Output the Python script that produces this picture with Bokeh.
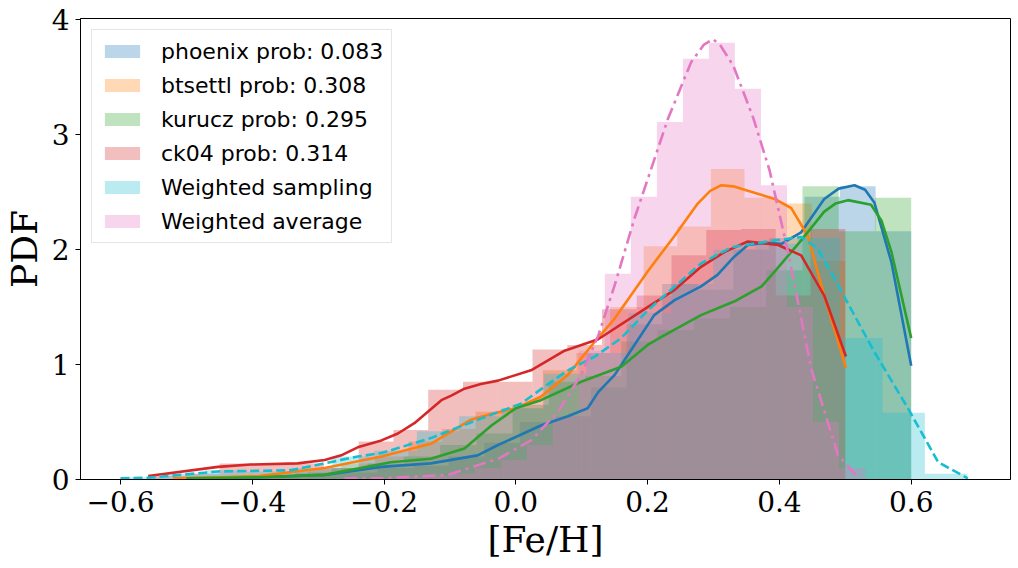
import numpy as np
from bokeh.plotting import figure
from bokeh.models import Range1d, FixedTicker, CustomJSTickFormatter, Legend, LegendItem
from bokeh.embed import file_html
from bokeh.resources import INLINE

# ---------------- data ----------------
labels = ["phoenix prob: 0.083", "btsettl prob: 0.308", "kurucz prob: 0.295",
          "ck04 prob: 0.314", "Weighted sampling", "Weighted average"]
colors = ["#1f77b4", "#ff7f0e", "#2ca02c", "#d62728", "#17becf", "#e377c2"]

# histogram bins: (first edge, last edge, heights)
phoenix_range = (-0.48, 0.60)
phoenix_hist = [0.01, 0.02, 0.03, 0.05, 0.06, 0.10, 0.12, 0.20, 0.32, 0.50,
                0.55, 0.80, 1.35, 1.70, 1.65, 2.00, 2.10, 2.46, 2.55, 2.16]
btsettl_range = (-0.52, 0.50)
btsettl_hist = [0.01, 0.03, 0.04, 0.05, 0.09, 0.14, 0.20, 0.33, 0.44, 0.59,
                0.62, 0.95, 1.10, 1.50, 2.03, 2.20, 2.70, 2.45, 2.40, 1.90]
kurucz_range = (-0.50, 0.60)
kurucz_hist = [0.01, 0.02, 0.03, 0.06, 0.10, 0.14, 0.20, 0.30, 0.40, 0.65,
               0.85, 0.90, 1.20, 1.30, 1.40, 1.50, 1.82, 2.55, 2.16, 2.45]
ck04_range = (-0.555, 0.50)
ck04_hist = [0.03, 0.05, 0.14, 0.14, 0.14, 0.10, 0.33, 0.43, 0.78, 0.85,
             0.85, 1.13, 1.17, 1.48, 1.60, 1.95, 2.17, 2.18, 1.60, 2.18]
wsamp_range = (-0.60, 0.685)
wsamp_hist = [0.02, 0.05, 0.08, 0.07, 0.10, 0.20, 0.25, 0.42, 0.55, 0.62,
              0.92, 1.10, 1.45, 1.70, 2.00, 2.05, 2.10, 1.23, 0.58, 0.05]
wavg_range = (-0.26, 0.53)
wavg_hist = [0.01, 0.01, 0.02, 0.03, 0.05, 0.10, 0.17, 0.30, 0.55, 1.12,
             1.79, 2.46, 3.11, 3.66, 3.80, 3.40, 2.56, 1.50, 0.50, 0.10]

# KDE curves
phoenix_x = [-0.48, -0.39, -0.29, -0.204, -0.129, -0.058, -0.027, 0.0, 0.038, 0.079, 0.109,
             0.125, 0.15, 0.18, 0.21, 0.241, 0.281, 0.306, 0.33, 0.352, 0.38, 0.403, 0.433,
             0.468, 0.49, 0.514, 0.53, 0.544, 0.57, 0.6]
phoenix_y = [0.01, 0.02, 0.04, 0.11, 0.14, 0.21, 0.30, 0.37, 0.47, 0.55, 0.62,
             0.76, 0.91, 1.17, 1.43, 1.56, 1.68, 1.78, 1.93, 2.04, 2.06, 2.05, 2.15,
             2.44, 2.53, 2.56, 2.52, 2.41, 1.89, 0.99]
btsettl_x = [-0.52, -0.45, -0.39, -0.29, -0.204, -0.129, -0.068, -0.038, 0.0, 0.038, 0.079,
             0.12, 0.15, 0.2, 0.241, 0.276, 0.295, 0.312, 0.33, 0.347, 0.393, 0.418, 0.443,
             0.468, 0.501]
btsettl_y = [0.01, 0.02, 0.03, 0.10, 0.20, 0.31, 0.52, 0.57, 0.62, 0.72, 0.91,
             1.20, 1.40, 1.81, 2.12, 2.40, 2.51, 2.56, 2.55, 2.52, 2.44, 2.36, 2.12,
             1.60, 0.97]
kurucz_x = [-0.5, -0.39, -0.29, -0.19, -0.129, -0.078, -0.037, 0.0, 0.038, 0.099, 0.16,
            0.2, 0.221, 0.281, 0.332, 0.373, 0.393, 0.433, 0.468, 0.485, 0.504, 0.539,
            0.555, 0.57, 0.6]
kurucz_y = [0.01, 0.02, 0.04, 0.15, 0.18, 0.27, 0.47, 0.62, 0.69, 0.85, 0.98,
            1.17, 1.24, 1.43, 1.55, 1.68, 1.81, 2.08, 2.33, 2.40, 2.43, 2.39,
            2.25, 1.98, 1.23]
ck04_x = [-0.558, -0.452, -0.402, -0.331, -0.29, -0.265, -0.24, -0.204, -0.179, -0.154,
          -0.113, -0.098, -0.078, -0.053, -0.027, 0.023, 0.074, 0.125, 0.2, 0.241, 0.281,
          0.317, 0.352, 0.398, 0.433, 0.468, 0.501]
ck04_y = [0.03, 0.11, 0.13, 0.14, 0.17, 0.21, 0.28, 0.34, 0.40, 0.49,
          0.69, 0.73, 0.79, 0.83, 0.86, 0.95, 1.12, 1.22, 1.50, 1.65, 1.85,
          1.98, 2.07, 2.04, 1.95, 1.60, 1.07]
wsamp_x = [-0.6, -0.558, -0.452, -0.341, -0.24, -0.204, -0.129, -0.053, 0.008, 0.049, 0.079,
           0.12, 0.16, 0.2, 0.281, 0.327, 0.393, 0.433, 0.458, 0.489, 0.544, 0.595, 0.641, 0.686]
wsamp_y = [0.01, 0.015, 0.07, 0.08, 0.20, 0.23, 0.36, 0.53, 0.66, 0.83, 0.95,
           1.07, 1.23, 1.47, 1.88, 2.02, 2.08, 2.11, 2.01, 1.69, 1.11, 0.62, 0.15, 0.01]
wavg_x = [-0.26, -0.204, -0.103, -0.027, 0.023, 0.064, 0.099, 0.125, 0.15, 0.18, 0.19,
          0.231, 0.266, 0.285, 0.299, 0.31, 0.33, 0.36, 0.385, 0.413, 0.448, 0.489, 0.519]
wavg_y = [0.01, 0.01, 0.04, 0.18, 0.34, 0.59, 0.91, 1.25, 1.69, 2.27, 2.44,
          3.14, 3.63, 3.78, 3.83, 3.78, 3.60, 3.15, 2.69, 1.98, 0.97, 0.21, 0.02]

x_ticks = [-0.6, -0.4, -0.2, 0.0, 0.2, 0.4, 0.6]
y_ticks = [0, 1, 2, 3, 4]

series = [
    (phoenix_range, phoenix_hist, phoenix_x, phoenix_y, "solid"),
    (btsettl_range, btsettl_hist, btsettl_x, btsettl_y, "solid"),
    (kurucz_range, kurucz_hist, kurucz_x, kurucz_y, "solid"),
    (ck04_range, ck04_hist, ck04_x, ck04_y, "solid"),
    (wsamp_range, wsamp_hist, wsamp_x, wsamp_y, "9 4"),
    (wavg_range, wavg_hist, wavg_x, wavg_y, "13 5 3 5"),
]

# ---------------- figure ----------------
p = figure(frame_width=930, frame_height=461, output_backend="svg", toolbar_location=None,
           x_range=Range1d(-0.6607, 0.7507), y_range=Range1d(0, 4.01),
           min_border_left=71, min_border_right=9, min_border_top=18, min_border_bottom=73)
p.background_fill_color = "white"
p.border_fill_color = "white"
p.outline_line_color = "black"
p.outline_line_width = 1
p.xgrid.visible = False
p.ygrid.visible = False

quad_rs = []
for (rng, hist, cx, cy, dash), col, lab in zip(series, colors, labels):
    edges = np.linspace(rng[0], rng[1], len(hist) + 1)
    q = p.quad(left=edges[:-1], right=edges[1:], bottom=0, top=hist,
               fill_color=col, fill_alpha=0.3, line_color=None)
    quad_rs.append((q, lab))

for (rng, hist, cx, cy, dash), col in zip(series, colors):
    p.line(cx, cy, line_color=col, line_width=2.6, line_dash=dash, line_join="round")

items = [LegendItem(label=lab, renderers=[q]) for q, lab in quad_rs]

legend = Legend(items=items, location="top_left")
legend.margin = 11
legend.padding = 8
legend.spacing = 8
legend.glyph_width = 44
legend.glyph_height = 16
legend.label_height = 26
legend.label_standoff = 17
legend.label_text_font = "DejaVu Sans"
legend.label_text_font_size = "22px"
legend.label_text_color = "black"
legend.border_line_color = "#cccccc"
legend.border_line_width = 1
legend.background_fill_alpha = 0.8
p.add_layout(legend)

for ax in (p.xaxis[0], p.yaxis[0]):
    ax.axis_line_color = "black"
    ax.major_tick_line_color = "black"
    ax.major_tick_out = 5
    ax.major_tick_in = 0
    ax.minor_tick_line_color = None
    ax.major_label_text_font = "DejaVu Serif"
    ax.major_label_text_font_size = "28px"
    ax.major_label_text_color = "black"
    ax.axis_label_text_font = "DejaVu Serif"
    ax.axis_label_text_font_size = "36px"
    ax.axis_label_text_font_style = "normal"
    ax.axis_label_text_color = "black"

p.xaxis.ticker = FixedTicker(ticks=x_ticks)
p.yaxis.ticker = FixedTicker(ticks=y_ticks)
p.xaxis.formatter = CustomJSTickFormatter(
    code="return (tick < -1e-9 ? '\u2212' : '') + Math.abs(tick).toFixed(1);")
p.yaxis.formatter = CustomJSTickFormatter(code="return tick.toFixed(0);")
p.xaxis.axis_label = "[Fe/H]"
p.yaxis.axis_label = "PDF"
p.xaxis.major_label_standoff = 6
p.xaxis.axis_label_standoff = 4
p.yaxis.major_label_standoff = 6
p.yaxis.axis_label_standoff = 4

open("out.html", "w").write(file_html(p, INLINE))
